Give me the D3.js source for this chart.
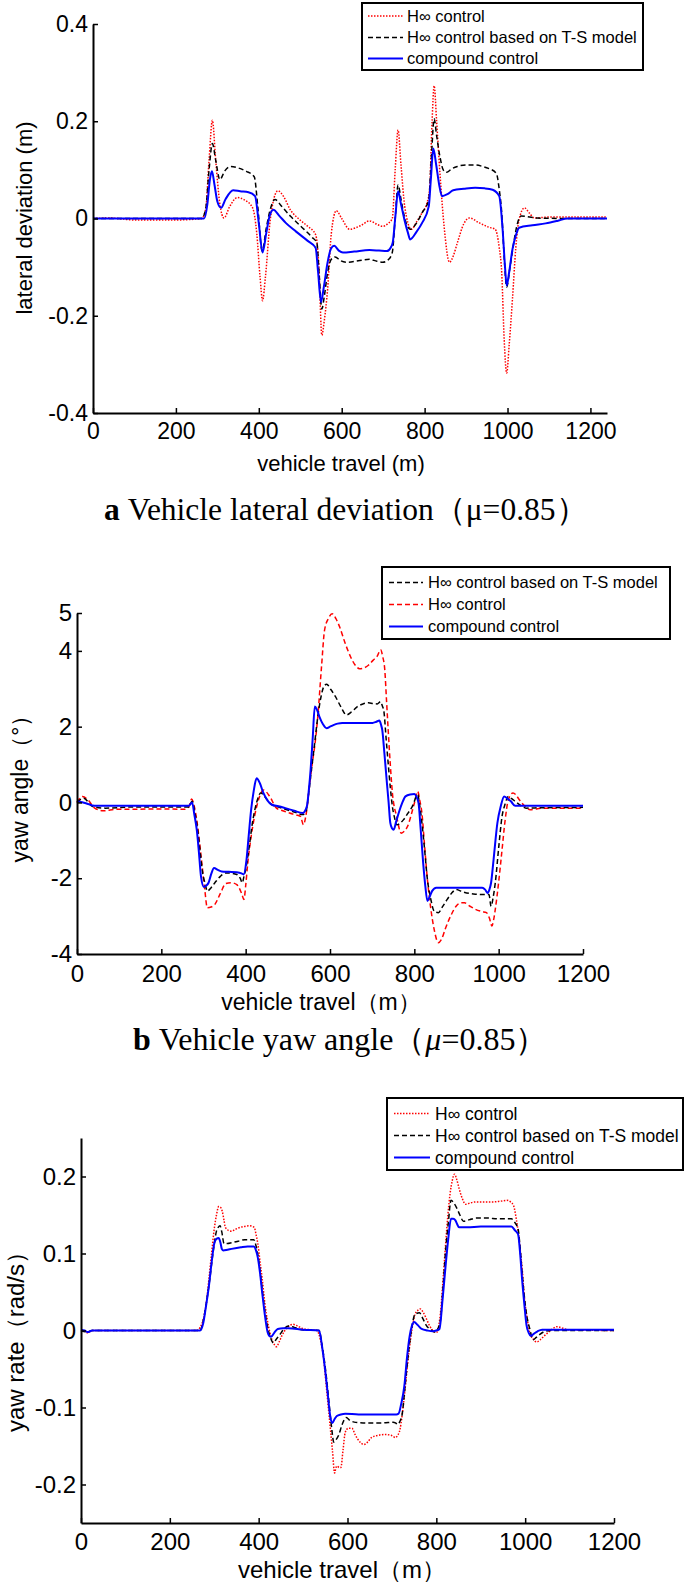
<!DOCTYPE html>
<html>
<head>
<meta charset="utf-8">
<script src="https://d3js.org/d3.v7.min.js"></script>
<style>
  body { margin: 0; background: #fff; }
  svg { display: block; }
</style>
</head>
<body>
<div id="chart"></div>
<script>
// ---- data, [vehicle travel m, value] ----
var xTicks = [0, 200, 400, 600, 800, 1000, 1200];

// a: lateral deviation (m)
var latTicks = [-0.4, -0.2, 0, 0.2, 0.4];
var latHinf = [[0,0],[40,0.001],[100,-0.003],[200,-0.003],[262,0],[272,0.02],[280,0.12],[288,0.202],[296,0.12],[306,0.03],[316,0.001],[330,0.025],[348,0.043],[364,0.039],[385,0.022],[395,-0.03],[403,-0.12],[409,-0.169],[416,-0.12],[428,0.0],[446,0.057],[460,0.045],[476,0.018],[498,-0.002],[518,-0.016],[537,-0.033],[545,-0.1],[552,-0.24],[558,-0.21],[566,-0.145],[575,-0.03],[587,0.016],[600,0.0],[619,-0.022],[645,-0.015],[667,-0.005],[685,-0.012],[699,-0.016],[712,-0.01],[722,0.0],[729,0.1],[736,0.182],[743,0.11],[752,0.025],[768,-0.022],[782,-0.005],[794,0.012],[805,0.03],[812,0.06],[818,0.2],[823,0.273],[829,0.2],[837,0.093],[847,-0.016],[860,-0.09],[870,-0.075],[879,-0.05],[895,-0.01],[908,0.001],[932,-0.009],[955,-0.018],[970,-0.022],[980,-0.06],[986,-0.111],[992,-0.25],[998,-0.318],[1004,-0.26],[1012,-0.165],[1020,-0.06],[1028,-0.002],[1041,0.022],[1052,0.012],[1065,0.001],[1100,0.003],[1240,0.003]];
var latTS = [[0,0],[262,0],[272,0.02],[280,0.1],[288,0.154],[296,0.12],[306,0.08],[318,0.098],[332,0.107],[350,0.104],[370,0.097],[389,0.086],[398,0.02],[408,-0.067],[418,-0.02],[428,0.02],[439,0.039],[455,0.025],[476,0.005],[500,-0.015],[529,-0.039],[540,-0.05],[546,-0.12],[552,-0.186],[558,-0.16],[566,-0.111],[574,-0.085],[584,-0.079],[598,-0.087],[614,-0.09],[640,-0.087],[667,-0.084],[685,-0.088],[699,-0.09],[712,-0.085],[722,-0.07],[729,0.0],[736,0.069],[743,0.04],[752,0.001],[765,-0.022],[780,-0.01],[794,0.012],[810,0.039],[816,0.12],[823,0.205],[829,0.17],[837,0.127],[845,0.1],[853,0.095],[865,0.102],[879,0.107],[900,0.11],[922,0.11],[940,0.107],[954,0.103],[973,0.093],[980,0.06],[986,0.012],[992,-0.08],[998,-0.141],[1006,-0.1],[1015,-0.05],[1024,-0.01],[1033,0.005],[1071,0.001],[1145,0],[1240,0]];
var latComp = [[0,0],[268,0],[276,0.03],[282,0.08],[287,0.097],[293,0.07],[300,0.035],[309,0.022],[320,0.04],[338,0.058],[355,0.056],[375,0.054],[391,0.046],[400,-0.01],[409,-0.07],[418,-0.03],[426,0.005],[435,0.018],[450,0.005],[465,-0.009],[490,-0.027],[518,-0.046],[537,-0.06],[543,-0.11],[550,-0.172],[557,-0.14],[566,-0.09],[574,-0.062],[582,-0.056],[593,-0.066],[603,-0.07],[630,-0.068],[667,-0.065],[690,-0.066],[709,-0.067],[718,-0.06],[723,-0.05],[729,0.0],[736,0.056],[743,0.03],[752,-0.005],[760,-0.03],[765,-0.043],[780,-0.028],[794,-0.009],[810,0.025],[815,0.08],[821,0.144],[828,0.11],[835,0.07],[842,0.046],[855,0.05],[869,0.058],[895,0.061],[922,0.063],[945,0.062],[964,0.059],[980,0.046],[988,-0.02],[994,-0.1],[998,-0.138],[1004,-0.11],[1012,-0.063],[1020,-0.035],[1028,-0.019],[1060,-0.014],[1092,-0.01],[1120,-0.005],[1145,0],[1240,0]];

// b: yaw angle (deg)
var yawTicks = [-4, -2, 0, 2, 4, 5];
var yawTS = [[0,0],[16,0.11],[36,-0.1],[67,-0.15],[130,-0.12],[265,-0.12],[273,0.03],[280,-0.3],[286,-0.72],[292,-1.3],[298,-1.86],[304,-2.15],[309,-2.34],[318,-2.25],[327,-2.12],[340,-1.95],[353,-1.86],[366,-1.87],[379,-1.9],[387,-2.0],[392,-2.12],[396,-1.95],[400,-1.77],[408,-1.2],[416,-0.54],[426,0.0],[436,0.25],[449,0.1],[462,-0.06],[478,-0.12],[494,-0.18],[515,-0.25],[535,-0.32],[543,-0.24],[550,0.3],[556,0.86],[563,1.5],[571,2.26],[578,2.75],[585,3.05],[592,3.12],[602,2.98],[613,2.79],[626,2.52],[639,2.31],[652,2.4],[665,2.53],[678,2.6],[691,2.63],[702,2.61],[712,2.6],[720,2.66],[724,2.55],[728,2.39],[733,1.7],[738,1.03],[743,0.4],[748,-0.11],[753,-0.4],[758,-0.59],[766,-0.55],[774,-0.46],[785,-0.28],[795,-0.11],[808,0.2],[813,-0.1],[818,-0.54],[824,-1.2],[831,-2.03],[839,-2.55],[847,-2.87],[857,-2.91],[867,-2.75],[878,-2.56],[888,-2.4],[899,-2.3],[915,-2.36],[930,-2.4],[945,-2.42],[961,-2.43],[977,-2.43],[982,-2.74],[987,-2.5],[992,-2.12],[1000,-1.2],[1008,-0.37],[1015,-0.05],[1023,0.16],[1031,0.1],[1039,0.03],[1052,-0.08],[1065,-0.15],[1100,-0.14],[1200,-0.13]];
var yawHinf = [[0,0],[13,0.16],[26,0.07],[42,-0.15],[62,-0.22],[95,-0.18],[130,-0.18],[200,-0.17],[255,-0.18],[265,-0.12],[272,0.09],[278,-0.1],[284,-0.46],[290,-1.0],[296,-1.6],[303,-2.3],[309,-2.78],[318,-2.76],[327,-2.69],[340,-2.4],[353,-2.14],[366,-2.12],[379,-2.17],[390,-2.39],[396,-2.56],[400,-2.2],[405,-1.6],[413,-0.9],[421,-0.37],[430,0.05],[442,0.33],[457,0.16],[473,-0.15],[488,-0.22],[504,-0.28],[520,-0.33],[530,-0.37],[537,-0.59],[542,-0.4],[545,-0.19],[551,0.4],[558,1.03],[565,1.6],[571,2.26],[580,3.6],[587,4.54],[596,4.85],[605,4.98],[614,4.85],[623,4.63],[636,4.2],[649,3.84],[660,3.62],[670,3.53],[680,3.55],[691,3.62],[702,3.75],[712,3.86],[720,4.03],[725,3.85],[730,3.49],[734,2.7],[738,1.91],[743,1.0],[748,0.25],[758,-0.37],[769,-0.81],[777,-0.75],[784,-0.63],[792,-0.35],[800,-0.02],[808,0.29],[813,0.05],[818,-0.28],[824,-1.1],[831,-2.03],[839,-2.8],[847,-3.35],[857,-3.7],[865,-3.6],[873,-3.35],[886,-3.0],[899,-2.74],[910,-2.65],[919,-2.65],[932,-2.74],[945,-2.82],[960,-2.88],[971,-2.91],[978,-3.05],[984,-3.26],[988,-3.1],[992,-2.82],[1000,-2.1],[1008,-1.25],[1015,-0.5],[1023,0.07],[1034,0.25],[1041,0.2],[1049,0.07],[1062,-0.1],[1075,-0.19],[1090,-0.17],[1107,-0.15],[1200,-0.15]];
var yawComp = [[0,0.03],[21,-0.02],[42,-0.09],[150,-0.09],[265,-0.09],[273,0],[278,-0.3],[284,-0.72],[289,-1.3],[294,-1.95],[301,-2.23],[306,-2.2],[312,-2.12],[318,-1.9],[325,-1.73],[334,-1.78],[343,-1.82],[360,-1.83],[379,-1.84],[390,-1.87],[395,-1.9],[402,-1.51],[407,-0.9],[413,-0.19],[419,0.3],[426,0.64],[434,0.5],[442,0.25],[452,0.05],[462,-0.06],[478,-0.1],[494,-0.15],[515,-0.22],[535,-0.28],[545,-0.11],[550,0.35],[554,0.86],[559,1.7],[564,2.53],[569,2.45],[575,2.26],[583,2.07],[592,1.96],[600,2.0],[608,2.04],[618,2.08],[629,2.1],[665,2.1],[701,2.1],[710,2.13],[717,2.16],[721,2.05],[724,1.91],[729,1.3],[735,0.51],[739,0.0],[743,-0.54],[747,-0.68],[751,-0.72],[757,-0.5],[764,-0.24],[771,-0.02],[779,0.16],[790,0.21],[800,0.22],[805,0.15],[810,-0.02],[815,-0.7],[821,-1.6],[826,-2.2],[831,-2.6],[836,-2.5],[842,-2.34],[852,-2.25],[878,-2.25],[920,-2.25],[961,-2.25],[968,-2.3],[974,-2.39],[978,-2.3],[982,-2.12],[988,-1.5],[997,-0.54],[1005,-0.1],[1013,0.16],[1021,0.1],[1029,0.03],[1039,-0.09],[1200,-0.09]];

// c: yaw rate (rad/s)
var rateTicks = [-0.2, -0.1, 0, 0.1, 0.2];
var rateHinf = [[0,0],[8,-0.001],[15,-0.003],[25,0],[100,0],[200,0],[261,0],[268,0.004],[275,0.014],[282,0.035],[288,0.067],[294,0.1],[300,0.132],[305,0.15],[310,0.161],[314,0.16],[318,0.155],[322,0.143],[325,0.134],[332,0.13],[339,0.129],[346,0.131],[354,0.133],[366,0.135],[379,0.136],[390,0.134],[394,0.125],[398,0.113],[403,0.09],[408,0.067],[414,0.035],[420,0.012],[425,-0.002],[430,-0.012],[435,-0.018],[440,-0.021],[446,-0.015],[452,-0.007],[465,0.004],[477,0.008],[487,0.006],[497,0.003],[515,0.001],[531,0],[539,-0.012],[546,-0.035],[551,-0.065],[556,-0.095],[561,-0.125],[566,-0.155],[571,-0.185],[574,-0.178],[577,-0.176],[581,-0.178],[585,-0.178],[590,-0.155],[595,-0.132],[602,-0.127],[610,-0.127],[617,-0.135],[623,-0.141],[630,-0.146],[637,-0.148],[645,-0.145],[654,-0.139],[670,-0.136],[684,-0.135],[698,-0.136],[708,-0.139],[713,-0.136],[718,-0.129],[723,-0.11],[728,-0.085],[735,-0.045],[743,-0.007],[747,0.008],[752,0.021],[758,0.026],[764,0.028],[770,0.024],[777,0.016],[785,0.006],[792,0],[797,-0.002],[802,-0.002],[806,0.008],[809,0.021],[815,0.065],[821,0.113],[826,0.15],[831,0.178],[836,0.195],[841,0.203],[846,0.196],[851,0.185],[858,0.172],[866,0.164],[878,0.166],[890,0.167],[910,0.167],[929,0.167],[945,0.168],[959,0.169],[967,0.167],[974,0.162],[980,0.145],[985,0.125],[989,0.104],[994,0.075],[998,0.044],[1004,0.018],[1010,-0.002],[1018,-0.011],[1026,-0.015],[1034,-0.012],[1043,-0.007],[1057,0],[1072,0.005],[1085,0.003],[1097,0.001],[1200,0]];
var rateTS = [[0,0],[15,-0.002],[25,0],[268,0],[275,0.012],[282,0.035],[290,0.067],[297,0.1],[305,0.129],[309,0.134],[313,0.136],[317,0.128],[322,0.113],[330,0.113],[339,0.114],[354,0.116],[369,0.118],[389,0.118],[394,0.11],[398,0.099],[403,0.078],[408,0.053],[414,0.025],[421,0.002],[427,-0.01],[433,-0.016],[440,-0.011],[448,-0.005],[457,0.002],[467,0.006],[480,0.004],[497,0.001],[536,0],[543,-0.02],[551,-0.053],[556,-0.08],[561,-0.109],[565,-0.13],[569,-0.145],[574,-0.142],[580,-0.136],[588,-0.122],[597,-0.113],[606,-0.117],[615,-0.119],[635,-0.12],[654,-0.12],[680,-0.12],[703,-0.119],[708,-0.12],[713,-0.122],[718,-0.118],[723,-0.109],[730,-0.07],[738,-0.025],[745,0.005],[752,0.021],[762,0.023],[770,0.015],[777,0.007],[787,0.001],[797,-0.002],[803,0.002],[809,0.012],[815,0.055],[821,0.104],[827,0.14],[833,0.169],[840,0.165],[846,0.159],[853,0.15],[861,0.142],[875,0.144],[890,0.146],[915,0.146],[939,0.145],[955,0.145],[969,0.145],[977,0.14],[984,0.132],[989,0.105],[993,0.076],[998,0.045],[1003,0.021],[1010,0.003],[1018,-0.012],[1025,-0.009],[1033,-0.005],[1045,-0.001],[1057,0],[1200,0]];
var rateComp = [[0,0.001],[8,0],[15,-0.002],[25,0],[268,0],[275,0.009],[281,0.03],[288,0.058],[294,0.088],[300,0.113],[305,0.119],[310,0.12],[314,0.114],[317,0.106],[320,0.104],[330,0.105],[339,0.106],[360,0.108],[375,0.109],[389,0.109],[394,0.104],[398,0.095],[403,0.075],[408,0.049],[414,0.02],[420,-0.002],[424,-0.007],[428,-0.008],[435,-0.003],[443,0.002],[455,0.003],[467,0.003],[500,0.001],[536,0],[543,-0.022],[551,-0.058],[556,-0.085],[561,-0.111],[566,-0.12],[571,-0.115],[576,-0.111],[585,-0.109],[595,-0.108],[625,-0.109],[665,-0.109],[703,-0.109],[710,-0.109],[715,-0.108],[721,-0.095],[728,-0.072],[734,-0.035],[740,-0.007],[745,0.006],[750,0.011],[758,0.007],[767,0.002],[780,0],[792,-0.001],[800,0],[807,0.002],[814,0.04],[821,0.085],[827,0.12],[833,0.145],[838,0.145],[843,0.143],[847,0.138],[851,0.134],[870,0.134],[900,0.135],[935,0.135],[969,0.135],[977,0.13],[984,0.125],[989,0.098],[993,0.067],[998,0.035],[1003,0.007],[1008,-0.003],[1013,-0.007],[1020,-0.004],[1028,-0.001],[1038,0.001],[1200,0.001]];

var labHinf = "H\u221e control";
var labTS = "H\u221e control based on T-S model";
var labComp = "compound control";

// ---- styles ----
var RED = "#ff0000", BLACK = "#000000", BLUE = "#0000ff";
var dotted = "1.5,1.5", dashed = "5,3";
var sansFont = "'Liberation Sans', Arial, sans-serif";
var serifFont = "'Liberation Serif', 'Times New Roman', serif";

var svg = d3.select("#chart").append("svg")
    .attr("width", 685)
    .attr("height", 1588)
    .style("background", "#fff");

function drawPanel(p) {
    var x = d3.scaleLinear().domain(p.xDomain).range(p.xRange);
    var y = d3.scaleLinear().domain(p.yDomain).range(p.yRange);
    var g = svg.append("g");

    var line = d3.line()
        .x(function(d) { return x(d[0]); })
        .y(function(d) { return y(d[1]); })
        .curve(d3.curveMonotoneX);

    // draw series (blue on top)
    p.series.forEach(function(s) {
        g.append("path")
            .datum(s.data)
            .attr("d", line)
            .attr("fill", "none")
            .attr("stroke", s.color)
            .attr("stroke-width", s.width)
            .attr("stroke-dasharray", s.dash)
            .attr("stroke-linejoin", "round");
    });

    // x axis, ticks pointing inward
    var xAxis = g.append("g")
        .attr("transform", "translate(0," + p.yRange[0] + ")")
        .call(d3.axisBottom(x).tickValues(xTicks).tickFormat(function(d) { return String(d); })
            .tickSizeInner(-5).tickSizeOuter(0).tickPadding(p.xPad));
    // y axis
    var yAxis = g.append("g")
        .attr("transform", "translate(" + p.xRange[0] + ",0)")
        .call(d3.axisLeft(y).tickValues(p.yTicks).tickFormat(function(d) { return String(d); })
            .tickSizeInner(-5).tickSizeOuter(0).tickPadding(5));

    [xAxis, yAxis].forEach(function(ax) {
        ax.attr("font-family", sansFont).attr("font-size", p.tickSize);
        ax.select(".domain").attr("stroke", "#000").attr("stroke-width", 2);
        ax.selectAll(".tick line").attr("stroke", "#000").attr("stroke-width", 1.5);
        ax.selectAll(".tick text").attr("fill", "#000");
    });

    // axis titles
    g.append("text")
        .attr("x", p.xLabelX)
        .attr("y", p.xLabelY)
        .attr("text-anchor", "middle")
        .attr("font-family", sansFont)
        .attr("font-size", p.labelSize)
        .text(p.xLabel);
    g.append("text")
        .attr("transform", "translate(" + p.yLabelX + "," + p.yLabelY + ") rotate(-90)")
        .attr("text-anchor", "middle")
        .attr("font-family", sansFont)
        .attr("font-size", p.labelSize)
        .text(p.yLabel);

    // legend
    var L = p.legend;
    var lg = g.append("g");
    lg.append("rect")
        .attr("x", L.x).attr("y", L.y)
        .attr("width", L.w).attr("height", L.h)
        .attr("fill", "#fff").attr("stroke", "#000").attr("stroke-width", 2);
    L.items.forEach(function(it, i) {
        var ly = L.rowY[i];
        lg.append("line")
            .attr("x1", L.x + L.sx0).attr("x2", L.x + L.sx1)
            .attr("y1", ly).attr("y2", ly)
            .attr("stroke", it.color).attr("stroke-width", it.width)
            .attr("stroke-dasharray", it.dash);
        lg.append("text")
            .attr("x", L.x + L.tx).attr("y", ly)
            .attr("dy", "0.35em")
            .attr("font-family", sansFont)
            .attr("font-size", L.fontSize)
            .text(it.label);
    });
}

function caption(xPos, yPos, size, letter, parts) {
    var t = svg.append("text")
        .attr("x", xPos).attr("y", yPos)
        .attr("font-family", serifFont)
        .attr("font-size", size);
    t.append("tspan").attr("font-weight", "bold").text(letter + " ");
    parts.forEach(function(pt) {
        t.append("tspan").attr("font-style", pt.italic ? "italic" : "normal").text(pt.text);
    });
}

// ---- panel a ----
var sHinfDot = {color: RED, width: 1.5, dash: dotted};
var sTSDash = {color: BLACK, width: 1.5, dash: dashed};
var sComp = {color: BLUE, width: 2, dash: null};

drawPanel({
    xDomain: [0, 1240], xRange: [93, 607],
    yDomain: [-0.4, 0.4], yRange: [413, 24],
    yTicks: latTicks, xPad: 10, tickSize: 23, labelSize: 22,
    series: [
        Object.assign({data: latHinf}, sHinfDot),
        Object.assign({data: latTS}, sTSDash),
        Object.assign({data: latComp}, sComp)
    ],
    xLabel: "vehicle travel  (m)", xLabelX: 341, xLabelY: 471,
    yLabel: "lateral deviation   (m)", yLabelX: 32, yLabelY: 218,
    legend: {
        x: 362, y: 3, w: 281, h: 67, rowY: [16, 37.5, 58.5],
        sx0: 6, sx1: 41, tx: 45, fontSize: 16.5,
        items: [
            Object.assign({label: labHinf}, sHinfDot),
            Object.assign({label: labTS}, sTSDash),
            Object.assign({label: labComp}, sComp)
        ]
    }
});
caption(104, 520, 31.5, "a", [{text: "Vehicle lateral deviation\uff08\u03bc=0.85\uff09"}]);

// ---- panel b ----
var sHinfDash = {color: RED, width: 1.5, dash: dashed};
drawPanel({
    xDomain: [0, 1200], xRange: [77, 583],
    yDomain: [-4, 5], yRange: [954, 613],
    yTicks: yawTicks, xPad: 11, tickSize: 24, labelSize: 23,
    series: [
        Object.assign({data: yawHinf}, sHinfDash),
        Object.assign({data: yawTS}, sTSDash),
        Object.assign({data: yawComp}, sComp)
    ],
    xLabel: "vehicle travel\uff08m\uff09", xLabelX: 321, xLabelY: 1010,
    yLabel: "yaw angle\uff08\u00b0\uff09", yLabelX: 28, yLabelY: 783,
    legend: {
        x: 382, y: 567, w: 288, h: 72, rowY: [582.5, 604.5, 626.5],
        sx0: 7, sx1: 41, tx: 46, fontSize: 16.5,
        items: [
            Object.assign({label: labTS}, sTSDash),
            Object.assign({label: labHinf}, sHinfDash),
            Object.assign({label: labComp}, sComp)
        ]
    }
});
caption(133, 1050, 32, "b", [{text: "Vehicle yaw angle\uff08"}, {text: "\u03bc", italic: true}, {text: "=0.85\uff09"}]);

// ---- panel c ----
drawPanel({
    xDomain: [0, 1200], xRange: [81, 614],
    yDomain: [-0.25, 0.25], yRange: [1523, 1138],
    yTicks: rateTicks, xPad: 10, tickSize: 24, labelSize: 24,
    series: [
        Object.assign({data: rateHinf}, sHinfDot),
        Object.assign({data: rateTS}, sTSDash),
        Object.assign({data: rateComp}, sComp)
    ],
    xLabel: "vehicle travel\uff08m\uff09", xLabelX: 342, xLabelY: 1578,
    yLabel: "yaw rate\uff08rad/s\uff09", yLabelX: 24, yLabelY: 1336,
    legend: {
        x: 387, y: 1098, w: 296, h: 72, rowY: [1113.5, 1135.5, 1157.5],
        sx0: 7, sx1: 43, tx: 48, fontSize: 17.5,
        items: [
            Object.assign({label: labHinf}, sHinfDot),
            Object.assign({label: labTS}, sTSDash),
            Object.assign({label: labComp}, sComp)
        ]
    }
});
</script>
</body>
</html>
